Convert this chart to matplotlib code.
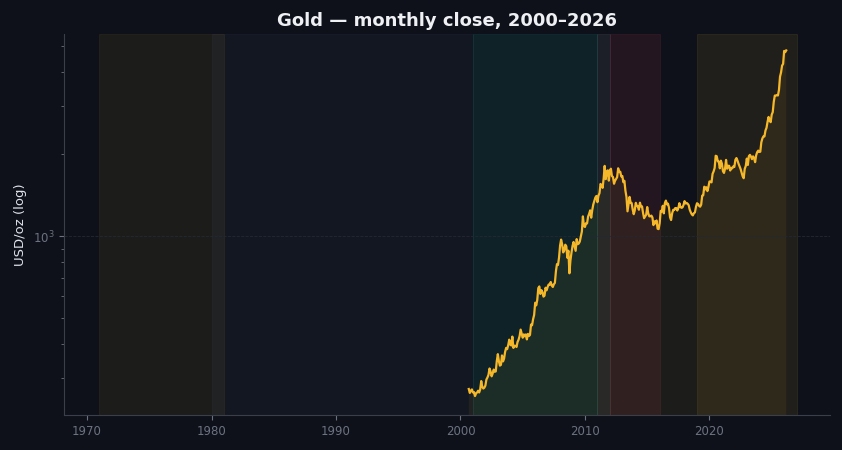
import numpy as np
import matplotlib.pyplot as plt

# monthly close, Sep 2000 .. Mar 2026 (USD/oz)
start_year = 2000 + 8 / 12
prices = [
    274, 265, 270, 273,
    266, 267, 258, 264, 266, 270, 266, 273, 293, 279, 275, 277,
    282, 297, 302, 309, 326, 318, 305, 312, 323, 317, 318, 347,
    368, 347, 334, 336, 364, 346, 354, 375, 388, 384, 397, 416,
    399, 396, 427, 388, 395, 395, 391, 408, 416, 429, 453, 438,
    423, 435, 428, 435, 417, 437, 429, 433, 473, 470, 495, 513,
    569, 556, 582, 644, 653, 613, 633, 623, 599, 604, 646, 632,
    650, 664, 662, 678, 659, 650, 665, 673, 743, 789, 783, 834,
    923, 971, 933, 871, 886, 930, 918, 833, 884, 730, 815, 870,
    919, 952, 916, 883, 975, 934, 939, 955, 996, 1040, 1182, 1088,
    1081, 1116, 1113, 1180, 1207, 1244, 1169, 1246, 1307, 1346, 1386, 1405,
    1333, 1409, 1439, 1556, 1536, 1505, 1628, 1813, 1620, 1722, 1746, 1600,
    1744, 1770, 1662, 1651, 1558, 1598, 1622, 1648, 1776, 1720, 1726, 1657,
    1664, 1579, 1598, 1469, 1394, 1234, 1312, 1394, 1326, 1323, 1253, 1204,
    1244, 1326, 1291, 1288, 1250, 1327, 1285, 1287, 1216, 1164, 1182, 1199,
    1279, 1213, 1183, 1182, 1190, 1172, 1098, 1134, 1114, 1142, 1065, 1061,
    1116, 1238, 1233, 1293, 1213, 1322, 1351, 1309, 1316, 1272, 1173, 1146,
    1211, 1249, 1247, 1268, 1268, 1242, 1269, 1322, 1280, 1271, 1275, 1303,
    1345, 1318, 1325, 1315, 1299, 1250, 1223, 1202, 1192, 1215, 1222, 1282,
    1321, 1313, 1292, 1283, 1305, 1409, 1414, 1520, 1485, 1513, 1464, 1517,
    1589, 1585, 1577, 1694, 1730, 1781, 1975, 1967, 1886, 1880, 1776, 1895,
    1848, 1734, 1708, 1769, 1907, 1770, 1814, 1814, 1743, 1784, 1775, 1806,
    1797, 1909, 1937, 1897, 1848, 1807, 1766, 1711, 1660, 1633, 1768, 1812,
    1928, 1827, 1969, 1990, 1962, 1919, 1965, 1940, 1871, 1983, 2036, 2063,
    2040, 2044, 2214, 2286, 2327, 2326, 2447, 2503, 2634, 2744, 2657, 2625,
    2798, 2858, 3122, 3289, 3289, 3303, 3290, 3448, 3858, 4000, 4239, 4300,
    4800, 4750, 4820,
]

# regime bands (start, end, colour, alpha)
bands = [
    (1971, 1981, "#c9a227", 0.08),
    (1980, 2001, "#5a6a8a", 0.08),
    (2001, 2011, "#14b8a6", 0.10),
    (2011, 2012, "#9aa0a6", 0.10),
    (2012, 2016, "#e0455a", 0.10),
    (2019, 2027, "#c9a227", 0.10),
]

bg = "#0e111a"
years = start_year + np.arange(len(prices)) / 12

fig = plt.figure(figsize=(8.42, 4.5), dpi=100, facecolor=bg)
ax = fig.add_axes([0.076, 0.078, 0.91, 0.846], facecolor=bg)

for a, b, c, al in bands:
    ax.axvspan(a, b, color=c, alpha=al, lw=0.8)

ax.fill_between(years, prices, 10, color="#c9a227", alpha=0.08, lw=0)
ax.plot(years, prices, color="#f5b82a", lw=1.6)

ax.set_yscale("log")
ax.set_ylim(220, 5530)
ax.set_xlim(1968.15, 2029.7)
ax.grid(True, which="major", axis="y", color="#232833", ls="--", lw=0.6)

ax.set_title("Gold — monthly close, 2000–2026", color="#eef0f4",
             fontsize=13, fontweight="bold")
ax.set_ylabel("USD/oz (log)", color="#e0e3ea", fontsize=9.5)
ax.tick_params(colors="#6b7280", labelsize=8.5, which="both")
ax.tick_params(axis="y", which="minor", labelleft=False)
for s in ["top", "right"]:
    ax.spines[s].set_visible(False)
for s in ["left", "bottom"]:
    ax.spines[s].set_color("#3a3f4a")

fig.savefig("out.png", facecolor=bg)
